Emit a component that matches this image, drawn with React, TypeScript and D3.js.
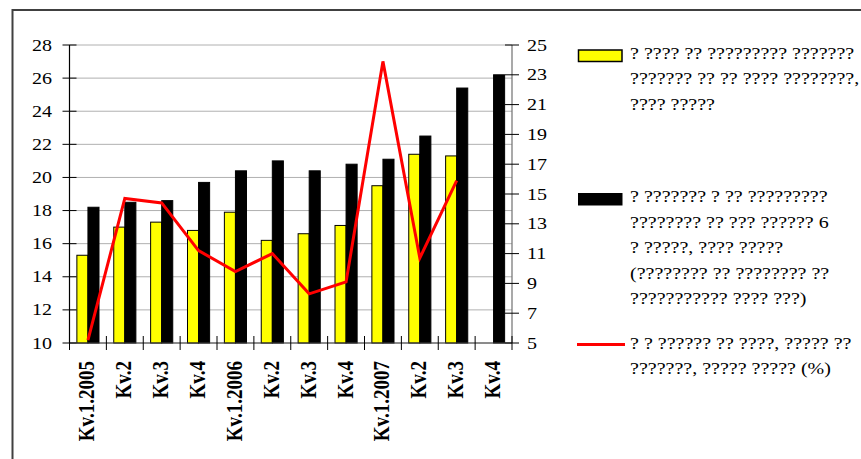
import React from "react";
import * as d3 from "d3";

const categories = ["Kv.1.2005", "Kv.2", "Kv.3", "Kv.4", "Kv.1.2006", "Kv.2", "Kv.3", "Kv.4", "Kv.1.2007", "Kv.2", "Kv.3", "Kv.4"];
const yellowValues: (number | null)[] = [15.3, 17.0, 17.3, 16.8, 17.9, 16.2, 16.6, 17.1, 19.5, 21.4, 21.3, null];
const blackValues: (number | null)[] = [18.2, 18.5, 18.6, 19.7, 20.4, 21.0, 20.4, 20.8, 21.1, 22.5, 25.4, 26.2];
const redValues: (number | null)[] = [5.2, 14.7, 14.4, 11.2, 9.8, 11.0, 8.3, 9.1, 23.9, 10.7, 15.9, null];
const leftTicks = [10, 12, 14, 16, 18, 20, 22, 24, 26, 28];
const rightTicks = [5, 7, 9, 11, 13, 15, 17, 19, 21, 23, 25];
const legendYellow = ["? ???? ?? ????????? ???????", "??????? ?? ?? ???? ????????,", "???? ?????"];
const legendBlack = ["? ??????? ? ?? ?????????", "???????? ?? ??? ?????? 6", "? ?????, ???? ?????", "(???????? ?? ???????? ??", "??????????? ???? ???)"];
const legendRed = ["? ? ?????? ?? ????, ????? ??", "???????, ????? ????? (%)"];

const W = 861, H = 459;
const L = 69.5, R = 512, T = 45, B = 343;
const FONT = "'Liberation Serif', 'Times New Roman', serif";
const SX = 1.25;

export default function App() {
  const x = d3.scaleBand<number>().domain(categories.map((_, i) => i)).range([L, R]).padding(0);
  const bw = x.bandwidth();
  const yL = d3.scaleLinear().domain([10, 28]).range([B, T]);
  const yR = d3.scaleLinear().domain([5, 25]).range([B, T]);

  const linePts = redValues
    .map((v, i) => (v == null ? null : ([x(i)! + bw / 2, yR(v)] as [number, number])))
    .filter((p): p is [number, number] => p != null);
  const lineGen = d3.line<[number, number]>();

  const legendX = 630;
  const lh = 25.5;

  const txt = (s: string, tx: number, ty: number, anchor: string, key: string | number, extra: any = {}) => (
    <text key={key} transform={`translate(${tx},${ty}) scale(${SX},1)`} textAnchor={anchor}
      fontFamily={FONT} fontSize={16} fill="#000" {...extra}>{s}</text>
  );

  return (
    <svg width={W} height={H} style={{ position: "absolute", left: 0, top: 0, background: "#fff" }}>
      <rect x={0} y={0} width={W} height={H} fill="#fff" />
      <rect x={12.5} y={10} width={2000} height={2000} fill="none" stroke="#404040" strokeWidth={2} />

      {/* gridlines */}
      {leftTicks.map((t) => (
        <line key={"g" + t} x1={L} x2={R} y1={yL(t)} y2={yL(t)} stroke="#b0b0b0" strokeWidth={1} />
      ))}

      {/* bars */}
      {yellowValues.map((v, i) =>
        v == null ? null : (
          <rect key={"y" + i} x={x(i)! + bw * 0.2} y={yL(v)} width={bw * 0.3} height={B - yL(v)}
            fill="#ffff00" stroke="#000" strokeWidth={1} />
        )
      )}
      {blackValues.map((v, i) =>
        v == null ? null : (
          <rect key={"b" + i} x={x(i)! + bw * 0.5} y={yL(v)} width={bw * 0.3} height={B - yL(v)}
            fill="#000" stroke="#000" strokeWidth={1} />
        )
      )}

      {/* axes */}
      <line x1={L} x2={L} y1={T} y2={B} stroke="#000" strokeWidth={1.2} />
      <line x1={R} x2={R} y1={T} y2={B} stroke="#707070" strokeWidth={1.2} />
      <line x1={L} x2={R} y1={B} y2={B} stroke="#404040" strokeWidth={1.2} />
      {leftTicks.map((t) => (
        <line key={"lt" + t} x1={L - 7} x2={L + 7} y1={yL(t)} y2={yL(t)} stroke="#000" strokeWidth={1} />
      ))}
      {rightTicks.map((t) => (
        <line key={"rt" + t} x1={R - 7} x2={R + 7} y1={yR(t)} y2={yR(t)} stroke="#000" strokeWidth={1} />
      ))}
      {d3.range(categories.length + 1).map((i) => (
        <line key={"xt" + i} x1={L + i * bw} x2={L + i * bw} y1={B - 7} y2={B + 7} stroke="#000" strokeWidth={1} />
      ))}

      {/* red line */}
      <path d={lineGen(linePts) || ""} fill="none" stroke="#ff0000" strokeWidth={3} strokeLinejoin="miter" />

      {/* axis labels */}
      {leftTicks.map((t) => txt(String(t), 52, yL(t) + 5.5, "end", "ll" + t))}
      {rightTicks.map((t) => txt(String(t), 527, yR(t) + 5.5, "start", "rl" + t))}
      {categories.map((c, i) => (
        <text key={"xl" + i}
          transform={`translate(${x(i)! + bw / 2 + 6.5},${361}) scale(${SX},1) rotate(-90)`}
          textAnchor="end" fontFamily={FONT} fontSize={19} fontWeight="bold" fill="#000">{c}</text>
      ))}

      {/* legend */}
      <rect x={578.5} y={50} width={43.5} height={11.5} fill="#ffff00" stroke="#000" strokeWidth={1.5} />
      {legendYellow.map((s, i) => txt(s, legendX, 58.5 + i * lh, "start", "ly" + i))}
      <rect x={578.5} y={193.5} width={43.5} height={11.5} fill="#000" stroke="#000" strokeWidth={1} />
      {legendBlack.map((s, i) => txt(s, legendX, 202 + i * lh, "start", "lb" + i))}
      <line x1={577} x2={625} y1={344.5} y2={344.5} stroke="#ff0000" strokeWidth={3} />
      {legendRed.map((s, i) => txt(s, legendX, 348.5 + i * lh, "start", "lr" + i))}
    </svg>
  );
}
